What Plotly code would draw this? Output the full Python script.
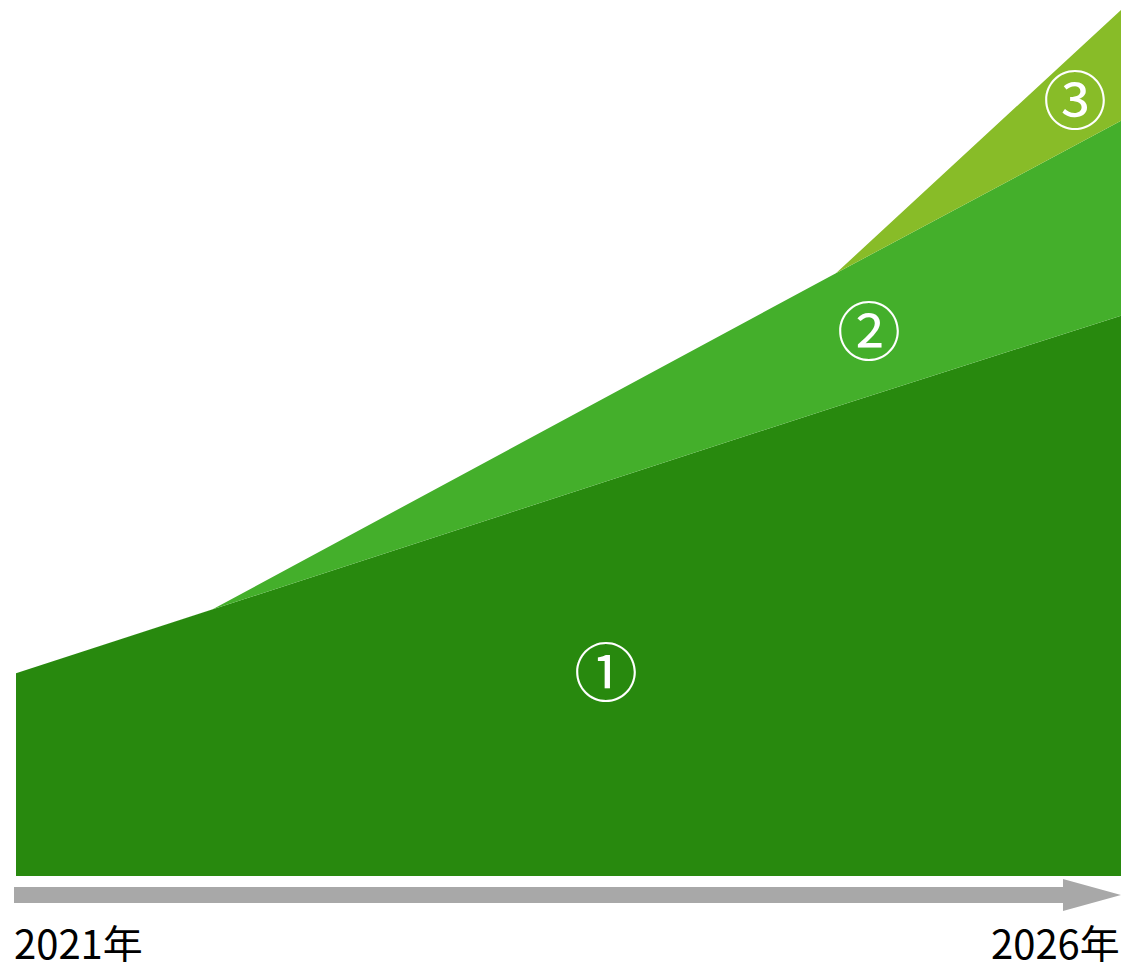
import plotly.graph_objects as go

# x positions (years) of the break points, stacked layer values (top of plot = 100)
years = [2021, 2021.89, 2024.71, 2026]
layer1 = [23.4, 30.8, 54.2, 64.7]
layer2 = [0, 0, 15.4, 22.5]
layer3 = [0, 0, 0, 12.8]

layer_colors = ["#28890e", "#44af2b", "#88bc28"]
labels = ["①", "②", "③"]
label_x = [2023.67, 2024.86, 2025.79]
label_y = [23.4, 62.8, 89.5]
year_labels = ["2021年", "2026年"]

fig = go.Figure()
for vals, col in zip([layer1, layer2, layer3], layer_colors):
    fig.add_trace(go.Scatter(
        x=years, y=vals, stackgroup="one", mode="lines",
        line=dict(width=0, color=col), fillcolor=col, hoverinfo="skip",
    ))

for txt, lx, ly in zip(labels, label_x, label_y):
    fig.add_annotation(x=lx, y=ly, text=txt, showarrow=False, yshift=5,
                       font=dict(size=64, color="white", family="Noto Sans CJK JP"))

# time arrow under the chart
fig.add_shape(type="path", xref="paper", yref="paper",
              path="M -0.0018 -0.0127 L 0.9475 -0.0127 L 0.9475 -0.0035 L 1 -0.0219 "
                   "L 0.9475 -0.0404 L 0.9475 -0.0312 L -0.0018 -0.0312 Z",
              fillcolor="#a8a8a8", line=dict(width=0))

# year labels: fixed box height so the text box stays inside the page
fig.add_annotation(x=0, y=-0.0774, xref="paper", yref="paper", text=year_labels[0],
                   xanchor="left", yanchor="middle", xshift=-4, yshift=1, height=40,
                   showarrow=False,
                   font=dict(size=40, color="black", family="Noto Sans CJK JP"))
fig.add_annotation(x=1, y=-0.0774, xref="paper", yref="paper", text=year_labels[1],
                   xanchor="right", yanchor="middle", xshift=1, yshift=1, height=40,
                   showarrow=False,
                   font=dict(size=40, color="black", family="Noto Sans CJK JP"))

fig.update_layout(
    width=1121, height=964, showlegend=False,
    margin=dict(l=16, r=0, t=10, b=88),
    paper_bgcolor="white", plot_bgcolor="white",
    xaxis=dict(range=[2021, 2026], visible=False, fixedrange=True),
    yaxis=dict(range=[0, 100], visible=False, fixedrange=True),
)

fig.write_html("out.html", config={"displayModeBar": False},
               post_script="document.body.style.margin='0';"
                           "document.body.style.overflow='hidden';")
